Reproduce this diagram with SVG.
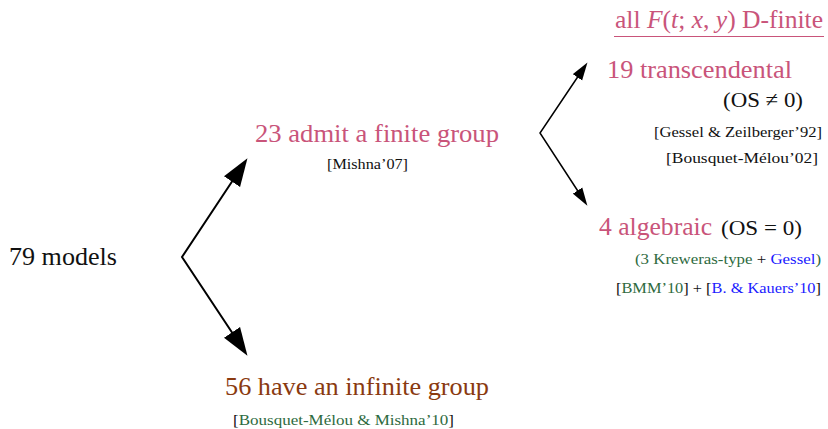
<svg xmlns="http://www.w3.org/2000/svg" width="828" height="429" viewBox="0 0 828 429">
<style>
text{font-family:"Liberation Serif","Times New Roman",serif;}
.big{font-size:25px;}
.med{font-size:22px;}
.sm{font-size:15.5px;}
.pink{fill:#c9547a;}
.brown{fill:#8a3a10;}
.green{fill:#2e6a3e;}
.blue{fill:#1a1aff;}
.blk{fill:#111;}
.it{font-style:italic;}
.conn{fill:none;stroke:#000;stroke-linejoin:miter;}
</style>
<defs>
<marker id="ah" markerUnits="userSpaceOnUse" markerWidth="28" markerHeight="20" viewBox="0 0 26 18" refX="16" refY="9" orient="auto-start-reverse">
<path d="M0,0 L26,9 L0,18 z" fill="#000"/>
</marker>
<marker id="ahs" markerUnits="userSpaceOnUse" markerWidth="18" markerHeight="12" viewBox="0 0 16 10" refX="10" refY="5" orient="auto-start-reverse">
<path d="M0,0 L16,5 L0,10 z" fill="#000"/>
</marker>
</defs>
<g id="connectors">
<polyline class="conn" stroke-width="2" points="241.5,167.3 182,257 241.5,346.7" marker-start="url(#ah)" marker-end="url(#ah)"/>
<polyline class="conn" stroke-width="1.5" points="583.7,68 540,133 583.7,200" marker-start="url(#ahs)" marker-end="url(#ahs)"/>
</g>
<g id="root">
<text class="big blk" x="9" y="265" textLength="108" lengthAdjust="spacingAndGlyphs">79 models</text>
</g>
<g id="finite">
<text class="big pink" x="255" y="142" textLength="244" lengthAdjust="spacingAndGlyphs">23 admit a finite group</text>
<text class="sm blk" x="327" y="169" textLength="81" lengthAdjust="spacingAndGlyphs">[Mishna’07]</text>
</g>
<g id="infinite">
<text class="big brown" x="225" y="395" textLength="264" lengthAdjust="spacingAndGlyphs">56 have an infinite group</text>
<text class="sm" x="233" y="425" textLength="221" lengthAdjust="spacingAndGlyphs"><tspan class="blk">[</tspan><tspan class="green">Bousquet-Mélou &amp; Mishna’10</tspan><tspan class="blk">]</tspan></text>
</g>
<g id="dfinite">
<text class="big pink" x="615" y="28" textLength="208" lengthAdjust="spacingAndGlyphs">all <tspan class="it">F</tspan>(<tspan class="it">t</tspan>; <tspan class="it">x</tspan>, <tspan class="it">y</tspan>) D-finite</text>
<line x1="614" y1="36.5" x2="824" y2="36.5" stroke="#c9547a" stroke-width="1"/>
</g>
<g id="transcendental">
<text class="big pink" x="607" y="78" textLength="185" lengthAdjust="spacingAndGlyphs">19 transcendental</text>
<text class="med blk" x="723" y="107" textLength="80" lengthAdjust="spacingAndGlyphs">(OS ≠ 0)</text>
<text class="sm blk" x="654" y="137" textLength="168" lengthAdjust="spacingAndGlyphs">[Gessel &amp; Zeilberger’92]</text>
<text class="sm blk" x="666" y="163" textLength="152" lengthAdjust="spacingAndGlyphs">[Bousquet-Mélou’02]</text>
</g>
<g id="algebraic">
<text class="big pink" x="599" y="235" textLength="113" lengthAdjust="spacingAndGlyphs">4 algebraic</text>
<text class="med blk" x="721" y="235" textLength="81" lengthAdjust="spacingAndGlyphs">(OS = 0)</text>
<text class="sm" x="635" y="264" textLength="186" lengthAdjust="spacingAndGlyphs"><tspan class="green">(3 Kreweras-type</tspan><tspan class="blk"> + </tspan><tspan class="blue">Gessel</tspan><tspan class="green">)</tspan></text>
<text class="sm" x="616" y="293" textLength="205" lengthAdjust="spacingAndGlyphs"><tspan class="blk">[</tspan><tspan class="green">BMM’10</tspan><tspan class="blk">] + [</tspan><tspan class="blue">B. &amp; Kauers’10</tspan><tspan class="blk">]</tspan></text>
</g>
</svg>
